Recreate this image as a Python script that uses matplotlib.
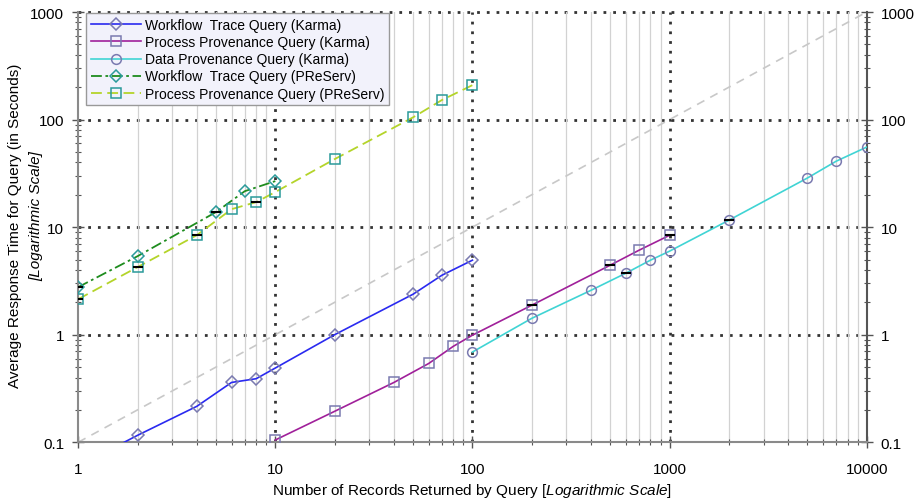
import numpy as np
import matplotlib
matplotlib.use("Agg")
import matplotlib.pyplot as plt
from matplotlib.ticker import LogLocator, NullFormatter, FixedLocator

plt.rcParams['font.family'] = ['Liberation Sans', 'DejaVu Sans']
plt.rcParams['mathtext.fontset'] = 'custom'
plt.rcParams['mathtext.rm'] = 'Liberation Sans'
plt.rcParams['mathtext.it'] = 'Liberation Sans:italic'

# Karma
wf_karma_x = [1, 2, 4, 6, 8, 10, 20, 50, 70, 100]
wf_karma_y = [0.06, 0.116, 0.216, 0.36, 0.39, 0.49, 1.0, 2.38, 3.57, 4.93]
pp_karma_x = [10, 20, 40, 60, 80, 100, 200, 500, 700, 1000]
pp_karma_y = [0.105, 0.194, 0.36, 0.54, 0.78, 0.99, 1.88, 4.43, 6.1, 8.4]
dp_karma_x = [100, 200, 400, 600, 800, 1000, 2000, 5000, 7000, 10000]
dp_karma_y = [0.69, 1.42, 2.59, 3.73, 4.93, 5.98, 11.6, 28.6, 41, 55.5]
# PReServ
wf_pre_x = [1, 2, 5, 7, 10]
wf_pre_y = [2.77, 5.37, 13.8, 21.6, 26.8]
pp_pre_x = [1, 2, 4, 6, 8, 10, 20, 50, 70, 100]
pp_pre_y = [2.14, 4.25, 8.43, 14.7, 17.1, 21.2, 42.9, 105, 152, 209]

ref_x = [1, 10000]
ref_y = [0.1, 1000]

fig = plt.figure(figsize=(9.2, 5.02), dpi=100)
ax = fig.add_axes([0.085, 0.117, 0.857, 0.857])
ax.set_xscale('log')
ax.set_yscale('log')
ax.set_xlim(1, 10000)
ax.set_ylim(0.1, 1000)

# grids
ax.xaxis.set_minor_locator(LogLocator(base=10, subs=np.arange(2, 10)))
ax.yaxis.set_minor_locator(LogLocator(base=10, subs=np.arange(2, 10)))
ax.xaxis.set_minor_formatter(NullFormatter())
ax.yaxis.set_minor_formatter(NullFormatter())
ax.grid(True, which='minor', axis='x', color='#d2d2d2', lw=0.9, ls='-')
for v in [10, 100, 1000]:
    ax.axvline(v, color='#333333', lw=2, ls=(0, (1, 2.5)), zorder=1)
for v in [1, 10, 100, 1000]:
    ax.axhline(v, color='#333333', lw=2, ls=(0, (1, 2.5)), zorder=1, clip_on=False)

ax.plot(ref_x, ref_y, color='#c8c8c8', lw=1.2, ls=(0, (5, 4)), zorder=2)

mk = dict(markersize=7, markerfacecolor='none', mew=1.1)
ax.plot(wf_karma_x, wf_karma_y, color='#2a2af0', lw=1.2, marker='D', markersize=6,
        markerfacecolor='none', mew=1.1, markeredgecolor='#7a7ab0',
        label='Workflow  Trace Query (Karma)', zorder=4)
ax.plot(pp_karma_x, pp_karma_y, color='#a0209a', lw=1.2, marker='s',
        markeredgecolor='#7a7ab0', label='Process Provenance Query (Karma)', zorder=4, **mk)
ax.plot(dp_karma_x, dp_karma_y, color='#40d4d4', lw=1.2, marker='o',
        markeredgecolor='#7a7ab0', label='Data Provenance Query (Karma)', zorder=4, **mk)
ax.plot(wf_pre_x, wf_pre_y, color='#1e8c1e', lw=1.3, ls=(0, (6, 2, 1.5, 2)), marker='D',
        markersize=6, markerfacecolor='none', mew=1.1, markeredgecolor='#2a9a9a',
        label='Workflow  Trace Query (PReServ)', zorder=4)
ax.plot(pp_pre_x, pp_pre_y, color='#b4d42a', lw=1.3, ls=(0, (6, 3)), marker='s',
        markeredgecolor='#2a9a9a', label='Process Provenance Query (PReServ)', zorder=4, **mk)

# small black error marks seen on some points
err_x = [1, 1, 2, 4, 8, 5, 200, 500, 1000, 600, 2000]
err_y = [2.14, 2.77, 4.25, 8.43, 17.1, 13.8, 1.88, 4.43, 8.4, 3.73, 11.6]
ax.plot(err_x, err_y, ls='none', marker='_', color='black', markersize=7, mew=1.5, zorder=5)

# spines and ticks
for s in ['left', 'bottom', 'right']:
    ax.spines[s].set_color('#8a8a8a')
    ax.spines[s].set_linewidth(1.5)
ax.spines['right'].set_color('#555555')
ax.spines['top'].set_visible(False)
ax.xaxis.set_major_locator(FixedLocator([1, 10, 100, 1000, 10000]))
ax.yaxis.set_major_locator(FixedLocator([0.1, 1, 10, 100, 1000]))
ax.set_xticklabels(['1', '10', '100', '1000', '10000'])
ax.set_yticklabels(['0.1', '1', '10', '100', '1000'])
ax.tick_params(axis='both', which='major', direction='inout', length=8, width=1,
               color='#555555', labelsize=11, pad=6)
ax.tick_params(axis='both', which='minor', direction='inout', length=5, width=0.8,
               color='#555555')
ax.tick_params(axis='y', which='both', right=True, labelright=True)
ax.tick_params(axis='x', which='major', pad=10)

ax.set_xlabel(r'Number of Records Returned by Query $\it{[Logarithmic\ Scale]}$', fontsize=11)
fig.text(15 / 920, 1 - 226 / 502, 'Average Response Time for Query (in Seconds)',
         rotation=90, ha='center', va='center', fontsize=11)
fig.text(36 / 920, 1 - 216 / 502, '[Logarithmic Scale]', style='italic',
         rotation=90, ha='center', va='center', fontsize=11)

leg = ax.legend(loc='upper left', bbox_to_anchor=(0.008, 1.0), fontsize=10,
                frameon=True, fancybox=False, borderpad=0.35, labelspacing=0.22,
                handlelength=3.6, handletextpad=0.3, borderaxespad=0.1)
leg.get_frame().set_facecolor('#f2f2fb')
leg.get_frame().set_edgecolor('#999999')
leg.get_frame().set_alpha(1)
leg.set_zorder(6)

fig.savefig('out.png', dpi=100)
